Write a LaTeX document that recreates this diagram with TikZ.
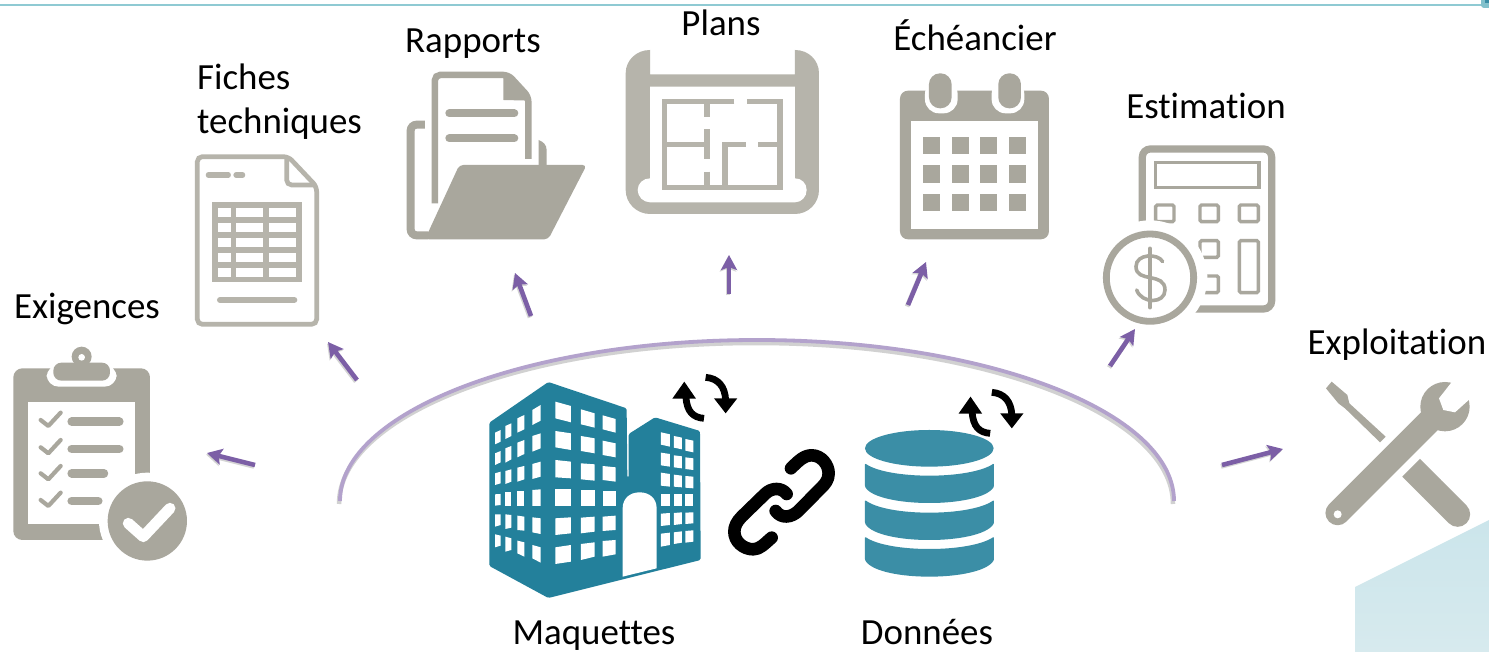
\documentclass[tikz,border=0pt]{standalone}
\usepackage{fontspec}
\setmainfont[Ligatures=NoCommon]{Carlito}
\usetikzlibrary{arrows.meta}
\definecolor{ig}{HTML}{A9A79D}
\definecolor{ip}{HTML}{B6B4AB}
\definecolor{teal1}{HTML}{23809B}
\definecolor{teal2}{HTML}{3B8EA6}
\definecolor{toprule}{HTML}{8FCAD3}
\definecolor{arcp}{HTML}{B3A2CC}
\definecolor{arrp}{HTML}{7C5FA6}
\definecolor{paleA}{HTML}{CBE5EB}
\definecolor{paleB}{HTML}{D7EAEE}
\tikzset{
  z/.style 2 args={shift={(#1,#2)},x=0.3333pt,y=-0.3333pt},
  lab/.style={font=\fontsize{36.9}{45}\selectfont,text=black,inner sep=0pt,anchor=base},
  parrow/.style={draw=arrp,line width=4.6pt,-{Stealth[length=15pt,width=16pt,inset=3pt]}},
  psh/.style={draw=black!55,opacity=.3,line width=4.6pt,-{Stealth[length=15pt,width=16pt,inset=3pt]}},
  syncarc/.style={line width=6.8pt,black},
}
\newcommand\win[6]{\fill[white] (#1,#3)--(#2,#4)--(#2,#5)--(#1,#6)--cycle;}
\newcommand\syncicon[2]{%
  \begin{scope}[z={#1}{#2}]
    \draw[syncarc] (672,145) .. controls (640,143) and (620,125) .. (618,80);
    \fill (613,35)--(648,86)--(577,86)--cycle;
    \draw[syncarc] (677,22) .. controls (715,25) and (735,50) .. (737,90);
    \fill (737,130)--(702,85)--(772,85)--cycle;
  \end{scope}}
\begin{document}
\begin{tikzpicture}[x=1pt,y=-1pt]
\useasboundingbox (0,0) rectangle (1489,652);
\fill[white] (0,0) rectangle (1489,652);
% top rule and corner
\fill[toprule] (0,4) rectangle (1489,6.2);
\fill[toprule!85!teal2,rounded corners=3pt] (1481,-4) rectangle (1493,8);
\fill[teal2] (1485,0) rectangle (1489,3);
% pale shape, bottom right
\shade[top color=paleA,bottom color=paleB] (1355,587)--(1489,520)--(1489,652)--(1355,652)--cycle;
% the arc
\draw[black!18,line width=4.5pt] (339,504) arc[start angle=180,end angle=360,x radius=417,y radius=161];
\draw[arcp,line width=3.8pt] (340,501) arc[start angle=180,end angle=360,x radius=417,y radius=161];
%
% building
\begin{scope}[z={480}{370}]
  \fill[teal1,rounded corners=1.5pt] (28,158)--(205,36)--(440,115)--(442,323)--(446,323)--(446,192)--(525,142)--(660,183)--(662,570)--(205,684)--(28,588)--cycle;
  \foreach \a/\b/\c/\d/\e/\f in {
    45/62/188/180/215/223,45/62/250/243/277/285,45/62/310/305/340/345,45/62/373/372/405/407,45/62/433/433/465/470,45/62/493/497/527/532,
    76/94/168/160/198/207,76/94/235/228/268/278,76/94/303/298/335/342,76/94/367/367/407/407,76/94/433/435/473/477,76/94/500/505/540/545,
    112/133/145/135/178/188,112/133/218/210/252/262,112/133/293/288/328/335,112/133/363/363/408/408,112/133/437/440/482/480,112/133/512/517/560/550,
    157/182/120/105/152/165,157/182/198/190/235/245,157/182/282/275/320/327,157/182/360/358/408/408,157/182/442/445/492/487,157/182/525/532/578/565,
    226/273/95/108/157/145,226/273/183/190/240/232,226/273/270/275/325/322,226/273/357/357/408/408,226/273/445/442/490/495,226/273/532/525/575/582,
    303/344/118/130/173/163,303/344/198/205/250/243,303/344/280/283/332/328,303/344/360/360/408/408,303/344/443/440/485/490,303/344/522/517/560/570,
    368/407/136/147/188/178,368/407/212/220/262/255,368/407/288/292/335/330,368/407/362/362/408/408,368/407/440/437/480/483,368/407/513/510/553/560,
    543/570/187/193/230/224,543/570/248/252/290/286,543/570/308/312/350/347,543/570/371/371/407/407,543/570/431/429/465/468,543/570/491/488/525/530,
    582/606/198/203/238/233,582/606/256/259/295/292,582/606/314/317/352/350,582/606/371/371/407/407,582/606/429/427/462/465,582/606/487/484/518/522,
    616/640/207/212/247/242,616/640/262/265/300/297,616/640/318/320/355/353,616/640/372/372/407/407,616/640/428/427/460/462,616/640/483/481/515/518}
    {\win{\a}{\b}{\c}{\d}{\e}{\f}}
  \fill[white] (428,620)--(428,415) .. controls (428,385) and (450,367) .. (479,367) .. controls (508,367) and (530,385) .. (530,415)--(530,595)--cycle;
\end{scope}
\begin{scope}[z={720}{380}]
  % link
  \draw[black,line width=12.6pt,line cap=round,line join=round]
    (213,265) .. controls (235,243) and (252,226) .. (275,226) .. controls (305,226) and (326,255) .. (326,280) .. controls (326,300) and (315,312) .. (305,322)
    -- (235,393) .. controls (215,412) and (185,418) .. (167,393);
  \draw[black,line width=12.6pt,line cap=round,line join=round]
    (200,342) .. controls (185,322) and (155,322) .. (135,342)
    -- (65,410) .. controls (50,425) and (43,440) .. (43,455) .. controls (43,485) and (70,508) .. (100,508) .. controls (120,508) and (135,490) .. (155,473);
  % database
  \fill[teal2] (628,205) ellipse[x radius=193,y radius=55];
  \foreach \t/\m/\b/\c in {250/287/320/369,360/398/430/480,470/507/540/590}
    \fill[teal2,rounded corners=1pt] (435,\t) .. controls (470,\m-12) and (550,\m) .. (628,\m) .. controls (706,\m) and (786,\m-12) .. (822,\t) -- (822,\b) .. controls (800,\c-15) and (710,\c) .. (628,\c) .. controls (546,\c) and (456,\c-15) .. (435,\b) --cycle;
\end{scope}
\syncicon{480}{370}
\syncicon{766.2}{385}
%
% clipboard
\begin{scope}[z={0}{340}]
  \fill[ig,rounded corners=9pt] (40,85) rectangle (450,600);
  \fill[white] (85,185) rectangle (405,553);
  \fill[white,rounded corners=12pt] (140,75) rectangle (350,140);
  \fill[ig,rounded corners=8pt] (160,68) rectangle (330,122);
  \fill[ig] (245,50) circle[radius=30];
  \fill[white] (245,52) circle[radius=10];
  \foreach \dy in {0,82,160,240}{
    \draw[ig,line width=4.2pt,line cap=round,line join=round] (122,240+\dy)--(145,258+\dy)--(182,218+\dy);}
  \foreach \xe/\ye in {358/245,358/327,312/400,295/483}
    \draw[ig,line width=8.5pt,line cap=round] (215,\ye)--(\xe,\ye);
  \fill[white] (442,543) circle[radius=145];
  \fill[ig] (442,543) circle[radius=119];
  \draw[white,line width=11pt,line cap=round,line join=round] (385,550)--(430,590)--(510,505);
\end{scope}
%
% spec sheet
\begin{scope}[z={180}{60}]
  \draw[ip,line width=4.7pt,rounded corners=5pt] (52,290)--(325,290)--(410,380)--(410,793)--(52,793)--cycle;
  \draw[ip,line width=4.7pt,rounded corners=5pt] (320,295)--(320,375)--(405,375);
  \draw[ip,line width=5.2pt,line cap=round] (85,345)--(145,345) (168,345)--(188,345);
  \fill[ip] (97,425) rectangle (365,667);
  \foreach \yy in {443,488,533,578,623}
    \foreach \xa/\xb in {115/152,168/248,266/347}
      \fill[white] (\xa,\yy) rectangle (\xb,\yy+27);
  \draw[ip,line width=6pt,line cap=round] (120,720)--(343,720);
  % folder
  \draw[ig,line width=8pt,rounded corners=6pt] (735,194)--(692,194)--(692,526)--(745,526);
  \draw[ig,line width=6.5pt,rounded corners=5pt] (765,430)--(765,45)--(985,45)--(1045,110)--(1045,297);
  \fill[ig] (970,45)--(970,120)--(1052,122)--(990,45)--cycle;
  \draw[ig,line width=8pt,line cap=round] (808,160)--(1003,160) (808,235)--(1003,235);
  \fill[ig] (1076,320)--(1076,240) .. controls (1090,245) and (1100,255) .. (1100,270)--(1100,320)--cycle;
  \fill[ig,rounded corners=4pt] (838,315)--(1220,315)--(1105,538)--(735,538)--cycle;
\end{scope}
%
% plans
\begin{scope}[z={610}{30}]
  \fill[ip] (120,60) .. controls (80,60) and (47,90) .. (47,130)--(47,480) .. controls (47,520) and (80,552) .. (120,552)--(555,552) .. controls (595,552) and (627,520) .. (627,480)--(627,130) .. controls (627,90) and (595,60) .. (555,60)--(555,133)--(120,133)--cycle;
  \fill[white] (120,170)--(555,170)--(555,445) .. controls (575,445) and (590,460) .. (590,480) .. controls (590,500) and (575,517) .. (555,517)--(120,517) .. controls (100,517) and (83,500) .. (83,480) .. controls (83,460) and (100,445) .. (120,445)--cycle;
  \draw[ip,line width=5.6pt] (373,215)--(163,215)--(163,472)--(510,472)--(510,215)--(410,215);
  \draw[ip,line width=5.6pt] (291,215)--(291,262) (291,298)--(291,388) (291,425)--(291,472) (163,343)--(291,343) (345,472)--(345,343)--(408,343) (445,343)--(510,343);
  % calendar
  \fill[ig,rounded corners=8pt] (870,182) rectangle (1317,628);
  \fill[white] (903,273) rectangle (1285,597);
  \foreach \xr in {945,1145}{
    \fill[white,rounded corners=14pt] (\xr,150) rectangle (\xr+98,250);}
  \foreach \xr in {957,1165}{
    \fill[ig,rounded corners=11pt] (\xr,130) rectangle (\xr+68,235);}
  \foreach \xa in {938,1025,1110,1196}
    \foreach \ya in {320,406,492}
      \fill[ig] (\xa,\ya) rectangle (\xa+52,\ya+52);
\end{scope}
%
% calculator
\begin{scope}[z={1090}{130}]
  \draw[ig,line width=7.2pt,rounded corners=8pt] (157,57) rectangle (545,537);
  \draw[ig,line width=3.4pt] (197,98) rectangle (507,172);
  \draw[ig,line width=3.4pt,rounded corners=1.5pt] (197,225) rectangle (252,275) (330,225) rectangle (385,275) (448,225) rectangle (505,275) (330,332) rectangle (385,382) (330,438) rectangle (385,488) (448,332) rectangle (505,488);
  \fill[white] (180,443) circle[radius=172];
  \draw[ig,line width=6.8pt] (180,443) circle[radius=131];
  \draw[ig,line width=3.6pt,line cap=round] (180,355)--(180,533);
  \draw[ig,line width=3.6pt,line cap=round] (218,395) .. controls (205,370) and (138,370) .. (138,410) .. controls (138,460) and (225,425) .. (225,480) .. controls (225,522) and (155,522) .. (140,480);
\end{scope}
%
% tools
\begin{scope}[z={1290}{360}]
  \fill[ig] (108,85)--(125,65)--(172,105)--(178,130)--(287,230)--(270,247)--(165,145)--(145,130)--cycle;
  \draw[ig,line width=25pt,line cap=round] (503,463)--(428,388);
  \fill[ig] (390,297)--(337,350)--(400,413)--(453,360)--cycle;
  \draw[ig,line width=24.5pt,line cap=round] (143,459)--(425,177);
  \fill[ig] (465,140) circle[radius=74];
  \fill[white] (490,60)--(447,115)--(460,150)--(495,157)--(545,112)--(560,50)--cycle;
  \fill[white] (143,463) circle[radius=12];
\end{scope}
%
% labels
\node[lab] (nExig) at (87,319) {Exigences};
\node[lab,anchor=base west] (nFichA) at (197,90) {Fiches};
\node[lab,anchor=base west] (nFichB) at (197,134) {techniques};
\node[lab] (nRapp) at (473,53) {Rapports};
\node[lab] (nPlan) at (721,36) {Plans};
\node[lab] (nEche) at (975,51) {Échéancier};
\node[lab] (nEsti) at (1206,119) {Estimation};
\node[lab] (nExpl) at (1397,355) {Exploitation};
\node[lab] (nMaqu) at (594,644.5) {Maquettes};
\node[lab] (nDonn) at (927,644.5) {Données};
%
% connectors
\coordinate (a1s) at (255,465); \coordinate (a1e) at (207,453);
\coordinate (a2s) at (357,380); \coordinate (a2e) at (328,342);
\coordinate (a3s) at (531,316); \coordinate (a3e) at (515,273);
\coordinate (a4s) at (729,294); \coordinate (a4e) at (729,255);
\coordinate (a5s) at (908,305); \coordinate (a5e) at (926,262);
\coordinate (a6s) at (1110,366); \coordinate (a6e) at (1135,329);
\coordinate (a7s) at (1222,465); \coordinate (a7e) at (1283,449);
\foreach \i in {1,...,7}{
  \draw[psh,transform canvas={xshift=-1pt,yshift=-1.5pt}] (a\i s)--(a\i e);
  \draw[parrow] (a\i s)--(a\i e);}
\end{tikzpicture}
\end{document}
